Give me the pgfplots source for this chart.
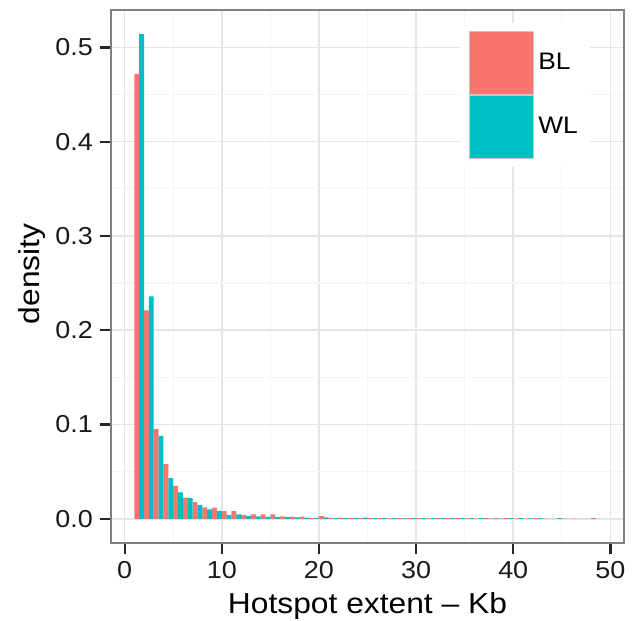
\documentclass[border=0pt]{standalone}
\usepackage{fontspec}
\setmainfont{Liberation Sans}[FakeStretch=1.1]
\usepackage{pgfplots}
\pgfplotsset{compat=1.18}
\definecolor{bl}{HTML}{F8766D}
\definecolor{wl}{HTML}{00BFC4}
\begin{document}
\begin{tikzpicture}
\begin{axis}[
  scale only axis, width=256.5bp, height=266.5bp,
  xmin=-1.4, xmax=51.4, ymin=-0.0257, ymax=0.5397,
  xtick={0,10,20,30,40,50}, xticklabels={0,10,20,30,40,50},
  ytick={0,0.1,0.2,0.3,0.4,0.5}, yticklabels={0.0,0.1,0.2,0.3,0.4,0.5},
  minor xtick={5,15,25,35,45}, minor ytick={0.05,0.15,0.25,0.35,0.45},
  grid=both,
  major grid style={color=black!10, line width=0.75bp},
  minor grid style={color=black!4, line width=0.6bp},
  axis line style={color=black!50, line width=0.7bp},
  tick align=outside, major tick length=5.5bp, minor tick length=0pt,
  major tick style={color=black!85, line width=1.1bp},
  xtick pos=left, ytick pos=left,
  ticklabel style={font=\fontsize{12.3}{14}\selectfont, text=black!90},
  xlabel={Hotspot extent – Kb}, ylabel={density},
  every axis x label/.style={at={(axis description cs:0.5,-0.1326)}, anchor=base,
    font=\fontsize{14.5}{17}\selectfont},
  every axis y label/.style={at={(axis description cs:-0.153,0.505)}, rotate=90, anchor=center,
    font=\fontsize{14.5}{17}\selectfont},
  legend style={at={(0.934,0.976)}, anchor=north east, draw=none, fill=white,
    inner xsep=4bp, inner ysep=4bp, row sep=0pt,
    font=\fontsize{12}{14}\selectfont,
    /tikz/every even column/.style={column sep=4.5bp}},
  legend cell align=left,
]
\addplot[ybar, bar width=0.5, bar shift=0pt, fill=bl, draw=none, forget plot] coordinates {
(1.25,0.472) (2.25,0.221) (3.25,0.095) (4.25,0.058) (5.25,0.035)
(6.25,0.0225) (7.25,0.0176) (8.25,0.0122) (9.25,0.0119) (10.25,0.0080)
(11.25,0.0080) (12.25,0.0042) (13.25,0.0046) (14.25,0.0046) (15.25,0.0046)
(16.25,0.0025) (17.25,0.0022) (18.25,0.0022) (19.25,0.0010) (20.25,0.0028)
(21.25,0.0010) (22.25,0.0012) (23.25,0.0010) (24.25,0.0010) (25.25,0.0008)
(26.25,0.0006) (27.25,0.0004) (28.25,0.0006) (29.25,0.0006) (30.25,0.0006)
(31.25,0.0004) (32.25,0.0006) (33.25,0.0006) (34.25,0.0006) (35.25,0.0004)
(36.25,0.0002) (37.25,0.0006) (38.25,0.0006) (39.25,0.0006) (40.25,0.0002)
(41.25,0.0002) (42.25,0.0006) (43.25,0.0002) (44.25,0) (45.25,0.0002)
(46.25,0.0002) (47.25,0) (48.25,0.0006)
};
\addplot[ybar, bar width=0.5, bar shift=0pt, fill=wl, draw=none, forget plot] coordinates {
(1.75,0.514) (2.75,0.236) (3.75,0.088) (4.75,0.043) (5.75,0.028)
(6.75,0.022) (7.75,0.0148) (8.75,0.0101) (9.75,0.0080) (10.75,0.0041)
(11.75,0.0046) (12.75,0.0028) (13.75,0.0025) (14.75,0.0022) (15.75,0.0020)
(16.75,0.0018) (17.75,0.0015) (18.75,0.0012) (19.75,0.0010) (20.75,0.0014)
(21.75,0.0008) (22.75,0.0008) (23.75,0.0010) (24.75,0.0012) (25.75,0.0006)
(26.75,0.0010) (27.75,0.0006) (28.75,0.0004) (29.75,0.0006) (30.75,0.0006)
(31.75,0.0008) (32.75,0.0006) (33.75,0.0006) (34.75,0.0006) (35.75,0.0006)
(36.75,0.0006) (37.75,0.0002) (38.75,0.0002) (39.75,0.0006) (40.75,0.0006)
(41.75,0.0004) (42.75,0.0006) (43.75,0) (44.75,0.0006) (45.75,0)
(46.75,0) (47.75,0) (48.75,0)
};
\addlegendimage{legend image code/.code={\fill[bl] (0bp,-15.75bp) rectangle (32bp,15.75bp);
    \draw[black!22, line width=0.5bp] (0bp,-15.75bp) rectangle (32bp,15.75bp);}}
\addlegendentry{BL}
\addlegendimage{legend image code/.code={\fill[wl] (0bp,-15.75bp) rectangle (32bp,15.75bp);
    \draw[black!22, line width=0.5bp] (0bp,-15.75bp) rectangle (32bp,15.75bp);}}
\addlegendentry{WL}
\end{axis}
\pgfresetboundingbox
\useasboundingbox ([xshift=-55.5bp, yshift=-39bp]current axis.south west) rectangle ([xshift=263bp, yshift=271.5bp]current axis.south west);
\end{tikzpicture}
\end{document}
